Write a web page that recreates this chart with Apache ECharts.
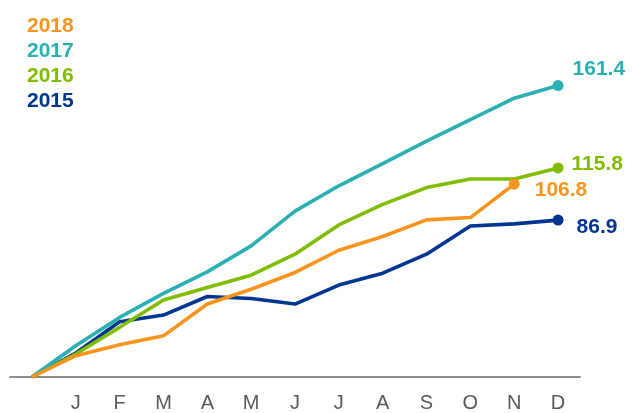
<!DOCTYPE html>
<html>
<head>
<meta charset="utf-8">
<script src="https://cdn.jsdelivr.net/npm/echarts@6/dist/echarts.min.js"></script>
<style>
  html, body { margin: 0; padding: 0; background: #fff; }
  #chart { width: 632px; height: 413px; }
</style>
</head>
<body>
<div id="chart"></div>
<script>
// month labels, first slot is the zero start point
const months = ['', 'J', 'F', 'M', 'A', 'M', 'J', 'J', 'A', 'S', 'O', 'N', 'D'];

const y2015 = [0, 13.3, 30.6, 34.3, 44.6, 43.5, 40.4, 50.9, 57.5, 68.0, 83.6, 84.8, 86.9];
const y2016 = [0, 12.7, 27.5, 42.7, 49.6, 56.4, 68.0, 84.2, 95.6, 104.9, 109.7, 109.7, 115.8];
const y2017 = [0, 17.3, 33.0, 46.3, 58.2, 72.6, 91.9, 105.9, 118.2, 130.6, 142.6, 154.4, 161.4];
const y2018 = [0, 11.8, 17.9, 22.8, 40.4, 48.6, 57.9, 70.2, 77.8, 87.0, 88.3, 106.8];

const colors = {
  '2018': '#f7941d',
  '2017': '#2ab0b3',
  '2016': '#80bc00',
  '2015': '#003591'
};

// label offset for the end value, tuned by eye
const endOffsets = {
  '2015': [8, 7],
  '2016': [3, -4],
  '2017': [4, -16],
  '2018': [10, 6]
};

const font = 'Liberation Sans, Arial, sans-serif';

function makeSeries(name, values) {
  const last = values.length - 1;
  return {
    name: name,
    type: 'line',
    data: values.map((v, i) => i === last ? {
      value: v,
      label: {
        show: true,
        position: 'right',
        offset: endOffsets[name],
        formatter: v.toFixed(1),
        color: colors[name],
        fontFamily: font,
        fontWeight: 'bold',
        fontSize: 21
      }
    } : v),
    symbol: 'circle',
    symbolSize: (val, p) => p.dataIndex === last ? 11 : 0,
    showSymbol: true,
    lineStyle: { width: 3.6, color: colors[name] },
    itemStyle: { color: colors[name] },
    emphasis: { disabled: true },
    animation: false,
    z: 2
  };
}

const chart = echarts.init(document.getElementById('chart'));
chart.setOption({
  animation: false,
  grid: { left: 10, right: 52, top: 52, bottom: 35 },
  legend: {
    orient: 'vertical',
    left: 17,
    top: 11,
    icon: 'none',
    itemWidth: 0,
    itemHeight: 14,
    itemGap: 4,
    selectedMode: false,
    textStyle: {
      fontFamily: font,
      fontWeight: 'bold',
      fontSize: 21
    },
    data: ['2018', '2017', '2016', '2015'].map(n => ({
      name: n,
      textStyle: { color: colors[n] }
    }))
  },
  xAxis: {
    type: 'category',
    data: months,
    boundaryGap: true,
    axisLine: { lineStyle: { color: '#8c8c8c', width: 2 } },
    axisTick: { show: false },
    axisLabel: {
      color: '#595959',
      fontFamily: font,
      fontSize: 20,
      margin: 16
    }
  },
  yAxis: {
    type: 'value',
    min: 0,
    max: 180,
    show: false,
    splitLine: { show: false }
  },
  series: [
    makeSeries('2015', y2015),
    makeSeries('2016', y2016),
    makeSeries('2017', y2017),
    makeSeries('2018', y2018)
  ]
});
</script>
</body>
</html>
